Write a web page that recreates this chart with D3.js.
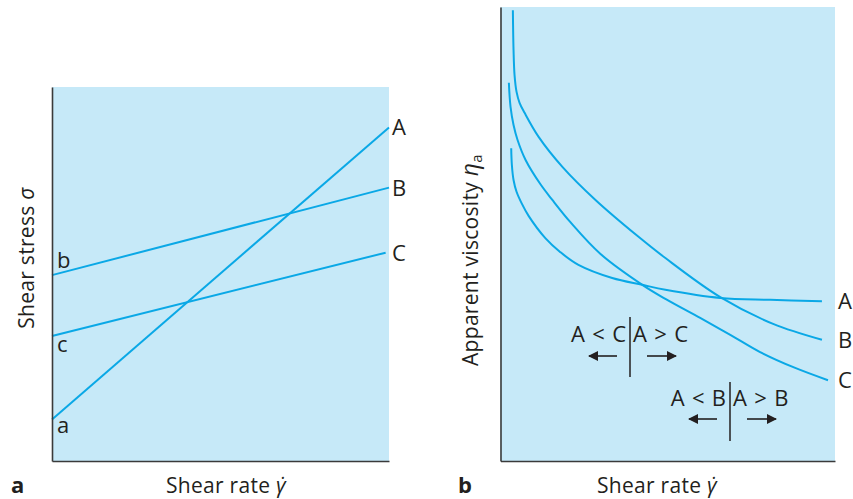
<!DOCTYPE html>
<html>
<head>
<meta charset="utf-8">
<script src="https://cdn.jsdelivr.net/npm/d3@7/dist/d3.min.js"></script>
<style>
  html, body { margin: 0; padding: 0; background: #ffffff; }
  svg { display: block; }
  text { font-family: "Open Sans", "Lato", sans-serif; fill: #231f20; }
</style>
</head>
<body>
<svg id="chart" width="853" height="499"></svg>
<script>
// Panel a: flow curves (shear stress vs shear rate), straight lines with a yield stress
const stressLines = ["A", "B", "C"];
const stressStart = [1.11, 4.97, 3.34];   // yield stress at zero shear rate (a, b, c)
const stressEndX  = [10, 10, 9.9];
const stressEnd   = [8.92, 7.31, 5.57];
const yieldLabels = ["a", "b", "c"];

// Panel b: apparent viscosity vs shear rate
const rateA = [0.32, 0.34, 0.39, 0.48, 0.63, 0.84, 1.34, 1.79, 2.33, 3.34, 4.24, 4.93, 6.57, 8.06, 9.61];
const viscA = [6.89, 6.52, 6.19, 5.93, 5.68, 5.40, 4.91, 4.60, 4.32, 4.03, 3.88, 3.77, 3.59, 3.55, 3.52];
const rateB = [0.37, 0.39, 0.42, 0.48, 0.57, 0.72, 1.14, 1.85, 2.84, 4.09, 4.93, 6.57, 8.15, 9.61];
const viscB = [9.93, 9.05, 8.50, 8.13, 7.89, 7.67, 7.14, 6.48, 5.75, 4.96, 4.47, 3.61, 3.02, 2.67];
const rateC = [0.25, 0.30, 0.39, 0.51, 0.75, 1.19, 1.55, 2.09, 2.99, 4.24, 4.93, 5.97, 6.87, 7.76, 8.81, 9.79];
const viscC = [8.33, 7.80, 7.40, 7.07, 6.63, 6.10, 5.75, 5.26, 4.56, 3.88, 3.57, 3.15, 2.78, 2.40, 2.05, 1.78];

const LINE = "#0aa8e6";
const BG = "#c6e9f8";
const AXIS = "#3a3a3a";
const INK = "#231f20";
const LABEL_SIZE = 22;
const TITLE_SIZE = 21;
const GAP = "\u2004"; // slightly wider space around the comparison signs

const svg = d3.select("#chart");

function panel(x0, x1, yTop, yBot) {
  const x = d3.scaleLinear().domain([0, 10]).range([x0, x1]);
  const y = d3.scaleLinear().domain([0, 10]).range([yBot, yTop]);
  const g = svg.append("g");
  g.append("rect")
    .attr("x", x0).attr("y", yTop)
    .attr("width", x1 - x0).attr("height", yBot - yTop)
    .attr("fill", BG);
  return { x, y, g };
}

function drawAxes(p) {
  const xa = d3.axisBottom(p.x).tickValues([]).tickSizeOuter(0);
  const ya = d3.axisLeft(p.y).tickValues([]).tickSizeOuter(0);
  const gx = p.g.append("g").attr("transform", `translate(0,${p.y(0)})`).call(xa);
  const gy = p.g.append("g").attr("transform", `translate(${p.x(0)},0)`).call(ya);
  [gx, gy].forEach(a => a.select(".domain").attr("stroke", AXIS).attr("stroke-width", 1.6));
}

// ---- Panel a ----
const pa = panel(52, 389, 87, 461);
stressLines.forEach((name, i) => {
  pa.g.append("line")
    .attr("x1", pa.x(0)).attr("y1", pa.y(stressStart[i]))
    .attr("x2", pa.x(stressEndX[i])).attr("y2", pa.y(stressEnd[i]))
    .attr("stroke", LINE).attr("stroke-width", 2);
  pa.g.append("text")
    .attr("x", 392).attr("y", pa.y(stressEnd[i]) + 8)
    .attr("font-size", LABEL_SIZE).text(name);
});
const yieldOffsets = [12, -9, 14];
yieldLabels.forEach((t, i) => {
  pa.g.append("text")
    .attr("x", pa.x(0) + 5).attr("y", pa.y(stressStart[i]) + yieldOffsets[i] + 2)
    .attr("font-size", LABEL_SIZE).text(t);
});
drawAxes(pa);

// ---- Panel b ----
const pb = panel(500.5, 835, 7, 461);
const curve = d3.line()
  .x(d => pb.x(d[0])).y(d => pb.y(d[1]))
  .curve(d3.curveCatmullRom.alpha(0.5));
const series = [
  { name: "A", rate: rateA, visc: viscA },
  { name: "B", rate: rateB, visc: viscB },
  { name: "C", rate: rateC, visc: viscC }
];
series.forEach(s => {
  const pts = s.rate.map((r, i) => [r, s.visc[i]]);
  pb.g.append("path").attr("d", curve(pts))
    .attr("fill", "none").attr("stroke", LINE).attr("stroke-width", 2);
  const last = pts[pts.length - 1];
  pb.g.append("text")
    .attr("x", 838).attr("y", pb.y(last[1]) + 8)
    .attr("font-size", LABEL_SIZE).text(s.name);
});
drawAxes(pb);

// Crossover annotations
svg.append("defs").append("marker")
  .attr("id", "arrow").attr("viewBox", "0 0 10 10")
  .attr("refX", 9).attr("refY", 5)
  .attr("markerWidth", 11).attr("markerHeight", 10)
  .attr("markerUnits", "userSpaceOnUse")
  .attr("orient", "auto")
  .append("path").attr("d", "M0,0 L10,5 L0,10 Z").attr("fill", INK);

function crossover(xc, yTop, yBot, baseline, arrowY, left, right) {
  const g = svg.append("g");
  g.append("line").attr("x1", xc).attr("x2", xc).attr("y1", yTop).attr("y2", yBot)
    .attr("stroke", INK).attr("stroke-width", 1.5);
  g.append("text").attr("x", xc - 4).attr("y", baseline)
    .attr("text-anchor", "end").attr("font-size", LABEL_SIZE).text(left);
  g.append("text").attr("x", xc + 3).attr("y", baseline)
    .attr("font-size", LABEL_SIZE).text(right);
  g.append("line").attr("x1", xc - 13).attr("x2", xc - 41).attr("y1", arrowY).attr("y2", arrowY)
    .attr("stroke", INK).attr("stroke-width", 1.6).attr("marker-end", "url(#arrow)");
  g.append("line").attr("x1", xc + 17).attr("x2", xc + 46).attr("y1", arrowY).attr("y2", arrowY)
    .attr("stroke", INK).attr("stroke-width", 1.6).attr("marker-end", "url(#arrow)");
}
crossover(630, 317, 377, 342, 356, `A${GAP}<${GAP}C`, `A${GAP}>${GAP}C`);
crossover(730, 382, 441, 406, 419, `A${GAP}<${GAP}B`, `A${GAP}>${GAP}B`);

// Axis titles
function rateTitle(cx) {
  const t = svg.append("text").attr("x", cx).attr("y", 493)
    .attr("text-anchor", "middle").attr("font-size", TITLE_SIZE)
    .attr("letter-spacing", 0.3);
  t.append("tspan").text("Shear rate ");
  t.append("tspan").attr("font-style", "italic").text("\u03B3\u0307");
}
rateTitle(226);
rateTitle(657);

const ta = svg.append("text")
  .attr("transform", "translate(34,258) rotate(-90)")
  .attr("text-anchor", "middle").attr("font-size", TITLE_SIZE)
  .attr("letter-spacing", 0.3);
ta.append("tspan").text("Shear stress ");
ta.append("tspan").attr("font-style", "italic").text("\u03C3");

const tb = svg.append("text")
  .attr("transform", "translate(478,260) rotate(-90)")
  .attr("text-anchor", "middle").attr("font-size", TITLE_SIZE)
  .attr("letter-spacing", 0.3);
tb.append("tspan").text("Apparent viscosity  ");
tb.append("tspan").attr("font-style", "italic").attr("font-size", 23).text("\u03B7");
tb.append("tspan").attr("font-size", 15).attr("dy", 4).text("a");

// Panel letters
svg.append("text").attr("x", 11).attr("y", 493).attr("font-size", LABEL_SIZE)
  .attr("font-weight", "bold").text("a");
svg.append("text").attr("x", 458).attr("y", 493).attr("font-size", LABEL_SIZE)
  .attr("font-weight", "bold").text("b");
</script>
</body>
</html>
